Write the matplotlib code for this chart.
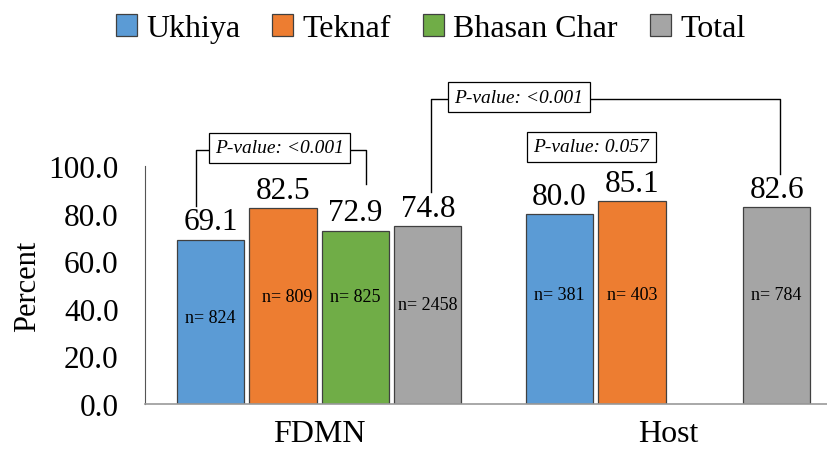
import matplotlib
matplotlib.use("Agg")
import matplotlib.pyplot as plt
from matplotlib.patches import Patch

plt.rcParams['font.family'] = ['Liberation Serif', 'DejaVu Serif']

# ---- data ----
groups = ["FDMN", "Host"]
sites = ["Ukhiya", "Teknaf", "Bhasan Char", "Total"]
fdmn_values = [69.1, 82.5, 72.9, 74.8]
host_values = [80.0, 85.1, None, 82.6]
fdmn_n = [824, 809, 825, 2458]
host_n = [381, 403, None, 784]
p_fdmn_sites = "P-value: <0.001"
p_fdmn_vs_host = "P-value: <0.001"
p_host_sites = "P-value: 0.057"
y_ticks = [0, 20, 40, 60, 80, 100]

# ---- style ----
colors = ["#5B9BD5", "#ED7D31", "#70AD47", "#A5A5A5"]
group_offset = 4.82
bar_w = 0.93
n_label_y = [[36.5, 45, 45, 42], [46, 46, None, 46]]
n_label_dx = [[0, 0.05, 0, 0], [0, 0, None, 0]]

fig = plt.figure(figsize=(8.28, 4.52), dpi=100)
ax = fig.add_axes([0.175, 0.104, 0.825, 0.5265])

all_vals = [fdmn_values, host_values]
all_n = [fdmn_n, host_n]
for g in range(len(groups)):
    for i in range(len(sites)):
        v = all_vals[g][i]
        if v is None:
            continue
        x = g * group_offset + i
        ax.bar(x, v, width=bar_w, color=colors[i], edgecolor="#404040", linewidth=0.9, zorder=2)
        ax.text(x, v + 1.3, f"{v:.1f}", ha="center", va="bottom", fontsize=22.5, clip_on=False)
        ax.text(x + n_label_dx[g][i], n_label_y[g][i], f"n= {all_n[g][i]}", ha="center", va="center",
                fontsize=13, zorder=3)

ax.set_xlim(-0.91, 8.53)
ax.set_ylim(0, 100)
ax.set_yticks(y_ticks)
ax.set_yticklabels([f"{t:.1f}" for t in y_ticks], fontsize=22.5)
ax.tick_params(axis="y", length=0, pad=19)
ax.tick_params(axis="x", length=0, pad=11)
centers = [g * group_offset + 1.5 for g in range(len(groups))]
ax.set_xticks(centers)
ax.set_xticklabels(groups, fontsize=23)
ax.set_ylabel("Percent", fontsize=22)
ax.yaxis.set_label_coords(-0.15, 0.5)
for s in ["top", "right"]:
    ax.spines[s].set_visible(False)
ax.spines["left"].set_color("#555555")
ax.spines["bottom"].set_color("#999999")
ax.spines["bottom"].set_linewidth(1.2)

bbox = dict(boxstyle="square,pad=0.33", fc="white", ec="black", lw=0.9)
lk = dict(color="black", lw=1.0, clip_on=False)

# FDMN site comparison bracket
ax.plot([-0.2, -0.2, 0.5], [83.2, 106.7, 106.7], **lk)
ax.plot([1.5, 2.15, 2.15], [106.7, 106.7, 92.4], **lk)
ax.text(0.95, 107.6, p_fdmn_sites, ha="center", va="center", fontsize=14, style="italic", bbox=bbox)

# FDMN vs Host totals
ax.plot([3.05, 3.05, 4.0], [89, 128, 128], **lk)
ax.plot([4.5, 7.87, 7.87], [128, 128, 96.6], **lk)
ax.text(4.26, 129, p_fdmn_vs_host, ha="center", va="center", fontsize=14, style="italic", bbox=bbox)

# Host sites
ax.text(5.26, 108, p_host_sites, ha="center", va="center", fontsize=14, style="italic", bbox=bbox)

handles = [Patch(facecolor=colors[i], edgecolor="#404040", linewidth=0.9) for i in range(len(sites))]
fig.legend(handles, sites, loc="upper center", bbox_to_anchor=(0.52, 1.03), ncol=4, frameon=False,
           fontsize=23, handlelength=0.65, handleheight=0.65, handletextpad=0.3, columnspacing=1.0)

fig.savefig("out.png", dpi=100)
